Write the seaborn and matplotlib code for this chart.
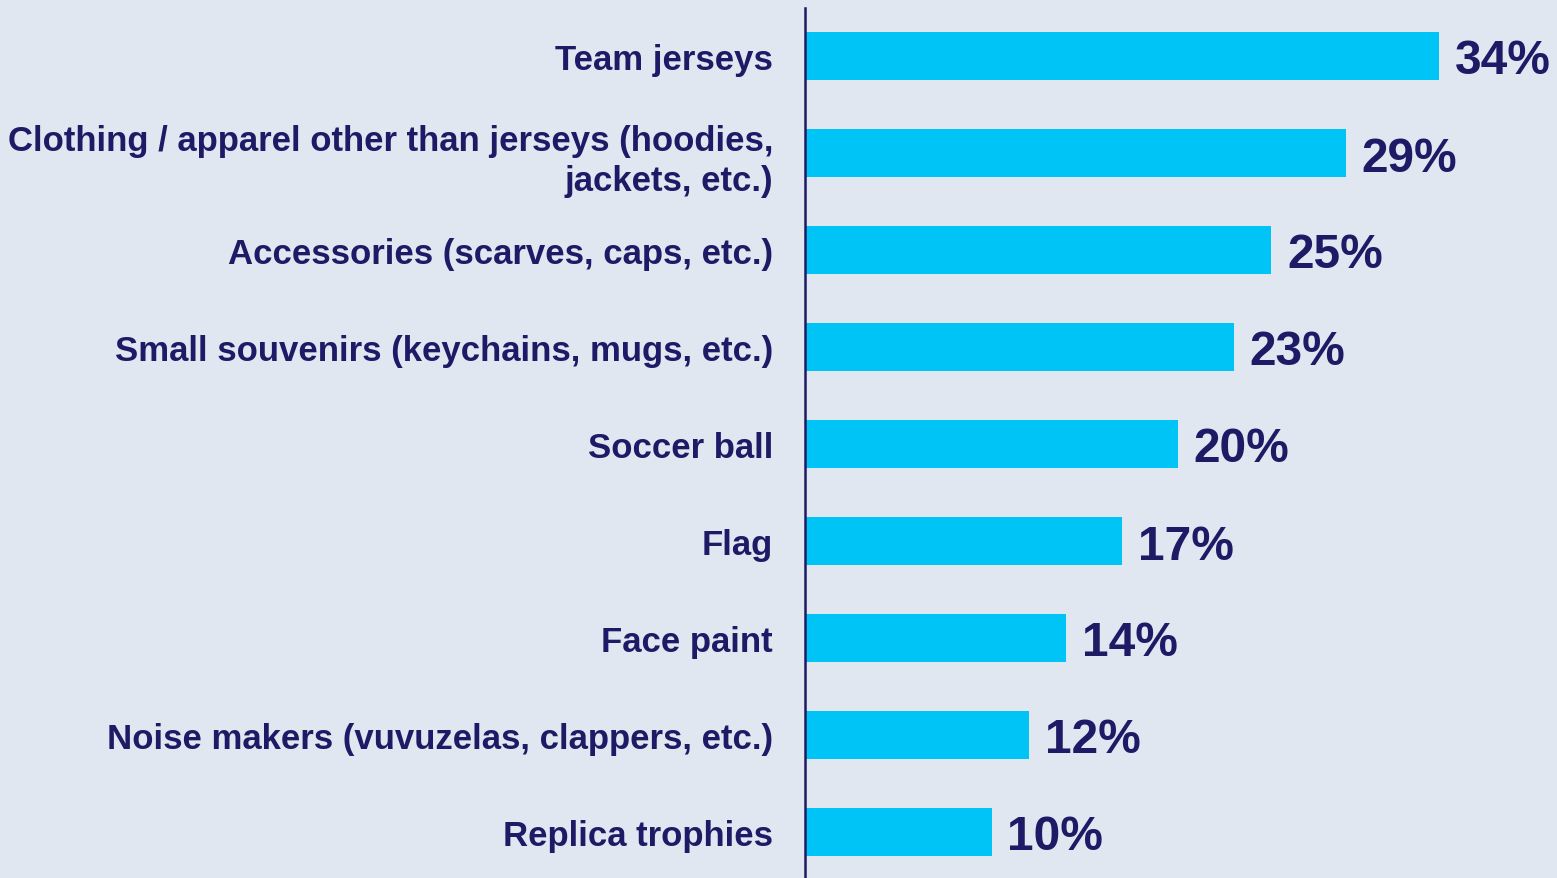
import matplotlib
matplotlib.use('Agg')
import matplotlib.pyplot as plt
import seaborn as sns
import pandas as pd

# Chart data
categories = [
    'Team jerseys',
    'Clothing / apparel other than jerseys (hoodies,\njackets, etc.)',
    'Accessories (scarves, caps, etc.)',
    'Small souvenirs (keychains, mugs, etc.)',
    'Soccer ball',
    'Flag',
    'Face paint',
    'Noise makers (vuvuzelas, clappers, etc.)',
    'Replica trophies',
]
shares = [34, 29, 25, 23, 20, 17, 14, 12, 10]

bg_color = '#E1E7F1'
bar_color = '#00C3F6'
text_color = '#1E1A66'

df = pd.DataFrame({'category': categories, 'share': shares})

sns.set_style('white')
plt.rcParams['font.family'] = ['Liberation Sans', 'DejaVu Sans']

fig = plt.figure(figsize=(15.57, 8.79), dpi=100, facecolor=bg_color)
ax = fig.add_axes([805 / 1557, 0.0, (1551 - 805) / 1557, (879 - 8.5) / 879])
ax.set_facecolor(bg_color)

sns.barplot(data=df, x='share', y='category', color=bar_color,
            width=0.505, saturation=1, linewidth=0, ax=ax)

ax.set_xlim(0, 40)
ax.set_ylim(8.5 - 2.5 / 97, -0.5)

for i, v in enumerate(shares):
    ax.text(v + 0.85, i, f'{v}%', va='center_baseline', ha='left',
            fontsize=34.5, fontweight='bold', color=text_color)

ax.set_xlabel('')
ax.set_ylabel('')
ax.set_xticks([])
ax.tick_params(axis='y', length=0, pad=23)
for lbl in ax.get_yticklabels():
    lbl.set_fontsize(25)
    lbl.set_fontweight('bold')
    lbl.set_color(text_color)
    lbl.set_linespacing(1.3)

for side in ['top', 'right', 'bottom']:
    ax.spines[side].set_visible(False)
ax.spines['left'].set_color(text_color)
ax.spines['left'].set_linewidth(1.8)

fig.savefig('out.png', dpi=100, facecolor=bg_color)
